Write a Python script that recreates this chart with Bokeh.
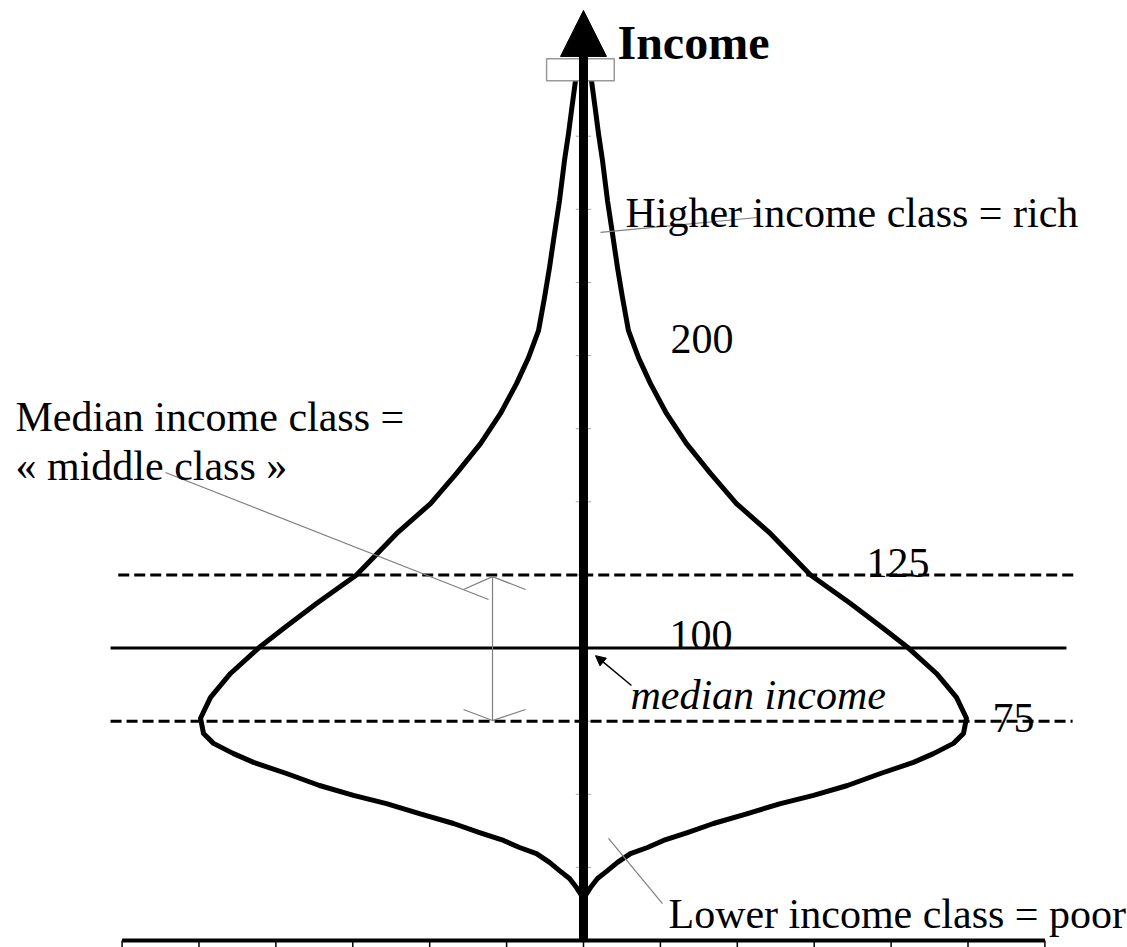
from bokeh.plotting import figure
from bokeh.models import Label, Arrow, NormalHead
from bokeh.embed import file_html
from bokeh.resources import INLINE

# ---- data: income level vs. half width (population density) of the distribution ----
income = [294.0, 283.8, 275.9, 266.7, 253.0, 241.7, 230.1, 219.8, 208.5, 199.3,
          190.4, 180.2, 169.9, 159.7, 149.4, 139.1, 125.0, 115.2, 106.7, 100.0,
          91.3, 83.1, 76.0, 70.8, 67.4, 63.9, 60.9, 57.1, 53.0, 49.6,
          46.8, 43.4, 40.0, 36.9, 34.2, 31.8, 29.7, 26.7, 23.9, 21.2,
          18.1, 15.4, 12.6]
half_width = [0.104, 0.156, 0.195, 0.247, 0.312, 0.377, 0.442, 0.507, 0.585, 0.715,
              0.871, 1.079, 1.339, 1.651, 1.989, 2.432, 2.952, 3.472, 3.901, 4.226,
              4.590, 4.850, 4.980, 4.941, 4.811, 4.551, 4.291, 3.862, 3.433, 2.991,
              2.562, 2.133, 1.690, 1.352, 1.040, 0.832, 0.611, 0.442, 0.312, 0.182,
              0.091, 0.026, 0.0]
left_width = [-w for w in half_width]

dashed_levels = [125, 75]
median_level = 100
x_ticks = [-6, -5, -4, -3, -2, -1, 0, 1, 2, 3, 4, 5, 6]
y_ticks = [25, 50, 75, 100, 125, 150, 175, 200, 225, 250, 275]
axis_top = 318
level_labels = ["200", "125", "100", "75"]

FONT = "Liberation Serif"
GRAY = "#7f7f7f"

p = figure(width=1127, height=947, x_range=(-7.581, 7.074), y_range=(-2.393, 321.4),
           output_backend="svg", toolbar_location=None, min_border=0,
           x_axis_location=None, y_axis_location=None)
p.grid.visible = False
p.outline_line_color = None
p.background_fill_color = "white"

# faint ticks on the vertical axis
p.segment(x0=[-0.1] * len(y_ticks), x1=[0.1] * len(y_ticks), y0=y_ticks, y1=y_ticks,
          line_color="#aaaaaa", line_width=1)

# horizontal reference lines
p.segment(x0=[-6.05, -6.15], x1=[6.40, 6.36], y0=dashed_levels, y1=dashed_levels,
          line_color="black", line_width=3, line_dash="11 5")
p.segment(x0=[-6.15], x1=[6.28], y0=[median_level], y1=[median_level],
          line_color="black", line_width=3)

# distribution outline
p.line(half_width, income, line_color="black", line_width=5, line_join="round")
p.line(left_width, income, line_color="black", line_width=5, line_join="round")

# bottom axis with ticks
p.segment(x0=[x_ticks[0]], x1=[x_ticks[-1]], y0=[0], y1=[0], line_color="black", line_width=4)
p.segment(x0=x_ticks, x1=x_ticks, y0=[0] * len(x_ticks), y1=[-3] * len(x_ticks),
          line_color="black", line_width=1.5)

# break box at the top of the axis
p.quad(left=[-0.48], right=[0.40], bottom=[294], top=[301.5],
       fill_color="white", line_color="#999999", line_width=1.5)

# leader lines
p.segment(x0=[0.221, -5.436, 0.325], y0=[242.1, 160.0, 34.9],
          x1=[2.263, -1.235, 1.027], y1=[247.2, 116.6, 12.6],
          line_color=GRAY, line_width=1.2)

# double arrow for middle class band
p.segment(x0=[-1.183], x1=[-1.183], y0=[75.2], y1=[124.4], line_color=GRAY, line_width=1.2)
p.segment(x0=[-1.560, -1.183, -1.560, -1.183], y0=[120.0, 124.4, 79.0, 75.2],
          x1=[-1.183, -0.754, -1.183, -0.754], y1=[124.4, 120.0, 75.2, 79.0],
          line_color=GRAY, line_width=1.2)

# vertical income axis with arrow
p.add_layout(Arrow(x_start=0, y_start=0, x_end=0, y_end=axis_top, line_width=9,
                   line_color="black",
                   end=NormalHead(size=46, fill_color="black", line_color="black")))

# median income pointer
p.add_layout(Arrow(x_start=0.624, y_start=87.2, x_end=0.156, y_end=97.4, line_width=1.5,
                   line_color="black",
                   end=NormalHead(size=10, fill_color="black", line_color="black")))

def lab(x, y, t, size="42px", style="normal"):
    p.add_layout(Label(x=x, y=y, text=t, text_font=FONT, text_font_size=size,
                       text_font_style=style, text_color="black",
                       text_baseline="alphabetic", text_align="left"))

lab(0.442, 307.0, "Income", size="48px", style="bold")
lab(0.546, 248.9, "Higher income class = rich")
lab(1.131, 205.5, level_labels[0])
lab(-7.386, 179.1, "Median income class =")
lab(-7.386, 162.4, "« middle class »")
lab(3.680, 129.2, level_labels[1])
lab(1.118, 104.6, level_labels[2])
lab(0.611, 83.8, "median income", style="italic")
lab(5.319, 76.0, level_labels[3])
lab(1.105, 9.2, "Lower income class = poor")

open("out.html", "w").write(file_html(p, INLINE))
